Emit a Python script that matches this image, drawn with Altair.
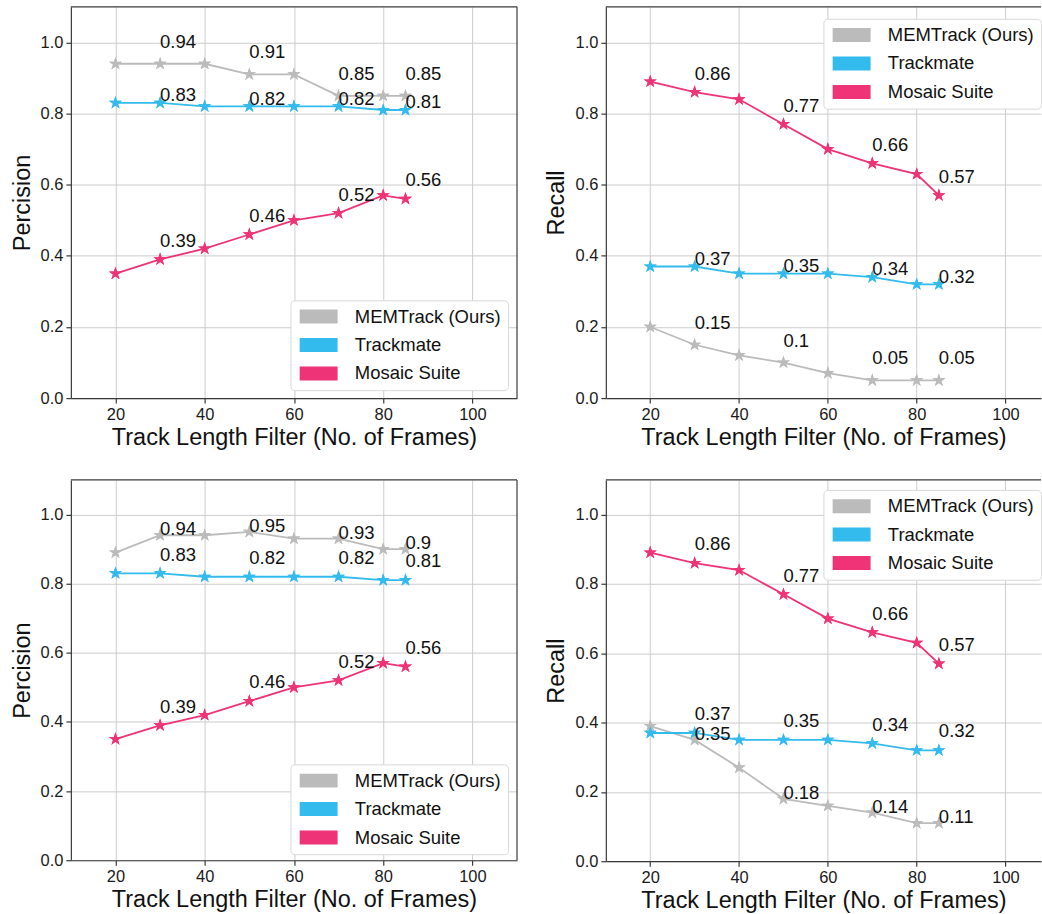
import altair as alt
import pandas as pd

FONT = "Liberation Sans"

frames = [20, 30, 40, 50, 60, 70, 80, 85]
methods = ["MEMTrack (Ours)", "Trackmate", "Mosaic Suite"]
colors = ["#BBBBBB", "#33BBEE", "#EE3377"]
labeled_frames = [30, 50, 70, 85]
x_ticks = [20, 40, 60, 80, 100]
y_ticks = [0.0, 0.2, 0.4, 0.6, 0.8, 1.0]
x_title = "Track Length Filter (No. of Frames)"

# Panel 1 (top-left): precision
prec1_mem = [0.94, 0.94, 0.94, 0.91, 0.91, 0.85, 0.85, 0.85]
prec1_tm = [0.83, 0.83, 0.82, 0.82, 0.82, 0.82, 0.81, 0.81]
prec1_mos = [0.35, 0.39, 0.42, 0.46, 0.50, 0.52, 0.57, 0.56]

# Panel 2 (top-right): recall
rec1_mem = [0.20, 0.15, 0.12, 0.10, 0.07, 0.05, 0.05, 0.05]
rec1_tm = [0.37, 0.37, 0.35, 0.35, 0.35, 0.34, 0.32, 0.32]
rec1_mos = [0.89, 0.86, 0.84, 0.77, 0.70, 0.66, 0.63, 0.57]

# Panel 3 (bottom-left): precision
prec2_mem = [0.89, 0.94, 0.94, 0.95, 0.93, 0.93, 0.90, 0.90]
prec2_tm = [0.83, 0.83, 0.82, 0.82, 0.82, 0.82, 0.81, 0.81]
prec2_mos = [0.35, 0.39, 0.42, 0.46, 0.50, 0.52, 0.57, 0.56]

# Panel 4 (bottom-right): recall
rec2_mem = [0.39, 0.35, 0.27, 0.18, 0.16, 0.14, 0.11, 0.11]
rec2_tm = [0.37, 0.37, 0.35, 0.35, 0.35, 0.34, 0.32, 0.32]
rec2_mos = [0.89, 0.86, 0.84, 0.77, 0.70, 0.66, 0.63, 0.57]

# label offsets above the point (data units), per panel and method
offs1 = {"MEMTrack (Ours)": 0.045, "Trackmate": 0.005, "Mosaic Suite": 0.035}
offs2 = {"MEMTrack (Ours)": 0.0, "Trackmate": 0.037, "Mosaic Suite": 0.037}

STAR = ("M0,-1 L0.2245,-0.309 L0.951,-0.309 L0.363,0.118 L0.588,0.809 "
        "L0,0.382 L-0.588,0.809 L-0.363,0.118 L-0.951,-0.309 L-0.2245,-0.309 Z")
RECT = "M-1,-1 L4.43,-1 L4.43,1 L-1,1 Z"
FRAME = "#3a3a3a"


def make_df(mem, tm, mos, offs):
    rows = []
    for m, vals in zip(methods, [mem, tm, mos]):
        for f, v in zip(frames, vals):
            rows.append({
                "frame": f, "value": v, "method": m,
                "label": str(v) if f in labeled_frames else "",
                "ylab": round(v + offs[m], 4),
            })
    return pd.DataFrame(rows)


def panel(mem, tm, mos, ytitle, offs, w, h, xmax, lx, ly, right_border):
    df = make_df(mem, tm, mos, offs)
    xs = alt.Scale(domain=[10, xmax], nice=False, zero=False)
    ys = alt.Scale(domain=[0, 1.1], nice=False, zero=False)
    cs = alt.Scale(domain=methods, range=colors)
    xax = alt.Axis(values=x_ticks, title=x_title, titlePadding=3)
    yax = alt.Axis(values=y_ticks, format=".1f", title=ytitle, titlePadding=6)
    leg = alt.Legend(title=None, orient="none", legendX=lx, legendY=ly,
                     symbolType=RECT, symbolStrokeWidth=0, symbolOpacity=1)
    X = alt.X("frame:Q", scale=xs, axis=xax)
    Y = alt.Y("value:Q", scale=ys, axis=yax)
    C = alt.Color("method:N", scale=cs, legend=leg)
    base = alt.Chart(df)
    pts = base.mark_point(shape=STAR, filled=True, size=190, opacity=1).encode(
        x=X, y=Y, color=C)
    line = base.mark_line(strokeWidth=1.8).encode(x=X, y=Y, color=C)
    txt = base.transform_filter("datum.label != ''").mark_text(
        align="left", baseline="alphabetic", fontSize=18.5, font=FONT, color="#111111"
    ).encode(
        x=X,
        y=alt.Y("ylab:Q", scale=ys, axis=yax),
        text="label:N")
    one = alt.Data(values=[{"k": 0}])
    top = alt.Chart(one).mark_rule(color=FRAME, strokeWidth=1.2).encode(
        x=alt.value(0), x2=alt.value("width"), y=alt.value(0))
    layers = [pts, line, pts, txt, top]
    if right_border:
        rb = alt.Chart(one).mark_rule(color=FRAME, strokeWidth=1.2).encode(
            x=alt.value("width"), y=alt.value(0), y2=alt.value("height"))
        layers.append(rb)
    return alt.layer(*layers).properties(width=w, height=h)


p1 = panel(prec1_mem, prec1_tm, prec1_mos, "Percision", offs1, 447, 392, 110, 220, 294, True)
r1 = panel(rec1_mem, rec1_tm, rec1_mos, "Recall", offs1, 436, 392, 108, 218, 12, False)
p2 = panel(prec2_mem, prec2_tm, prec2_mos, "Percision", offs2, 447, 381, 110, 220, 285, True)
r2 = panel(rec2_mem, rec2_tm, rec2_mos, "Recall", offs2, 436, 382, 108, 218, 10, False)

chart = alt.vconcat(
    alt.hconcat(p1, r1, spacing=27).resolve_scale(color="independent"),
    alt.hconcat(p2, r2, spacing=27).resolve_scale(color="independent"),
    spacing=30,
).resolve_scale(color="independent").properties(
    padding={"left": 10, "top": 5, "right": 0, "bottom": 0},
    background="white",
).configure_view(stroke=None).configure_axis(
    labelFont=FONT, titleFont=FONT, labelFontSize=16.5, titleFontSize=23.5,
    titleFontWeight="normal", labelColor="#1a1a1a", titleColor="#111111",
    tickColor=FRAME, tickSize=5, tickWidth=1.2, domainColor=FRAME, domainWidth=1.2,
    gridColor="#cccccc", gridWidth=1, labelPadding=3,
).configure_legend(
    labelFont=FONT, labelFontSize=18.5, labelColor="#111111",
    symbolSize=196, labelOffset=39, rowPadding=9.5, padding=7,
    strokeColor="#d8d8d8", cornerRadius=4, fillColor="#ffffff",
    symbolStrokeWidth=0, symbolOpacity=1, labelLimit=400,
)

chart.save("out.html", embed_options={"renderer": "svg", "actions": False})
